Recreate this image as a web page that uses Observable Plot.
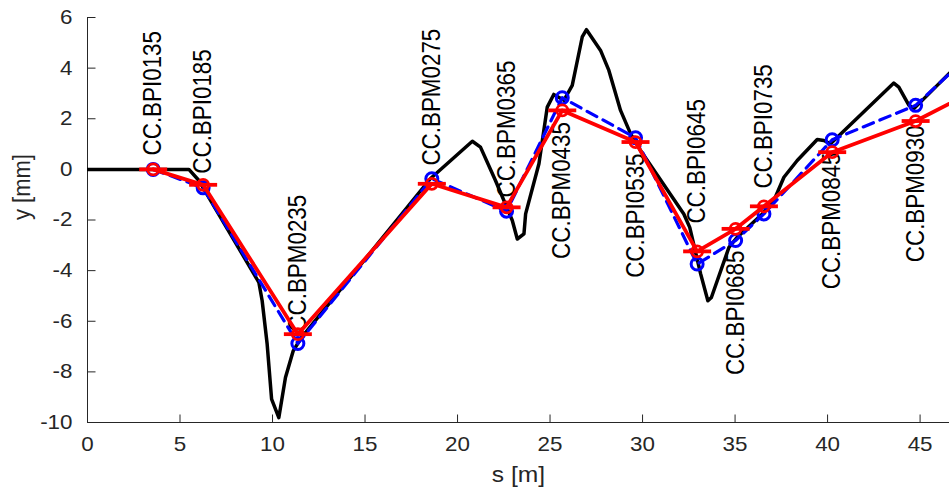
<!DOCTYPE html>
<html><head><meta charset="utf-8">
<script src="https://cdn.jsdelivr.net/npm/d3@7"></script>
<script src="https://cdn.jsdelivr.net/npm/@observablehq/plot@0.6"></script>
<style>body{margin:0;background:#fff} svg{display:block}</style>
</head><body><div id="chart"></div>
<script>
// Model trajectory (black)
const trajS = [0, 5.48, 6.02, 9.26, 9.44, 9.71, 9.95, 10.34, 10.70, 11.12, 11.51, 18.54, 20.80, 21.24, 22.05, 22.96, 23.23, 23.59, 23.68, 24.40, 24.85, 25.20, 25.75, 26.20, 26.74, 26.97, 27.73, 28.18, 28.81, 29.35, 29.89, 32.23, 32.55, 33.14, 33.53, 33.72, 34.67, 35.12, 36.47, 37.10, 37.64, 38.36, 39.44, 39.80, 40.16, 43.58, 43.85, 44.40, 44.67, 46.56, 47.50];
const trajY = [0, 0, -0.44, -4.46, -5.19, -6.90, -9.08, -9.81, -8.22, -7.17, -6.70, -0.36, 1.11, 0.88, -0.44, -2.02, -2.75, -2.55, -1.76, 0.22, 2.46, 2.96, 2.73, 3.32, 5.23, 5.52, 4.70, 3.91, 2.33, 1.41, 0.75, -1.76, -2.29, -4.13, -5.19, -5.06, -3.08, -2.68, -1.76, -1.23, -0.31, 0.35, 1.18, 1.14, 1.01, 3.41, 3.25, 2.53, 2.40, 3.78, 4.45];

// Monitors
const monitorNames = ["CC.BPI0135", "CC.BPI0185", "CC.BPM0235", "CC.BPM0275", "CC.BPM0365", "CC.BPM0435", "CC.BPI0535", "CC.BPI0645", "CC.BPI0685", "CC.BPI0735", "CC.BPM0845", "CC.BPM0930", ""];
const monitorS   = [3.55, 6.25, 11.37, 18.61, 22.65, 25.66, 29.62, 32.95, 35.03, 36.56, 40.25, 44.76, 47.50];
const blueY      = [0.00, -0.73, -6.88, -0.37, -1.65, 2.83, 1.25, -3.74, -2.81, -1.76, 1.17, 2.53, 4.39];
const redY       = [0.00, -0.61, -6.51, -0.57, -1.50, 2.33, 1.08, -3.24, -2.35, -1.46, 0.68, 1.91, 2.94];

// Label anchors (data units) and side of the point
const labelY    = [0.55, -0.17, -6.41, 0.15, -1.11, 1.87, 0.63, -2.14, -3.21, -0.76, 0.67, 1.74];
const labelSide = ["up", "up", "up", "up", "up", "down", "down", "up", "down", "up", "down", "down"];

const xTicks = [0, 5, 10, 15, 20, 25, 30, 35, 40, 45];
const yTicks = [-10, -8, -6, -4, -2, 0, 2, 4, 6];

const traj = trajS.map((s, i) => ({s, y: trajY[i]}));
const mons = monitorS.map((s, i) => ({s, blue: blueY[i], red: redY[i]}));
const labels = labelY.map((y, i) => ({s: monitorS[i], y, name: monitorNames[i], side: labelSide[i]}));

const tickUp = {draw(ctx) { ctx.moveTo(0, 0); ctx.lineTo(0, -8); }};
const tickRight = {draw(ctx) { ctx.moveTo(0, 0); ctx.lineTo(8, 0); }};
const hbar = {draw(ctx) { ctx.moveTo(-14, 0); ctx.lineTo(14, 0); }};

const axisColor = "#262626";
const font = "'Liberation Sans', Arial, Helvetica, sans-serif";

const chart = Plot.plot({
  width: 949, height: 493,
  marginLeft: 87, marginRight: 0, marginTop: 17, marginBottom: 71,
  x: {domain: [0, 46.59]},
  y: {domain: [-10, 6]},
  style: {fontFamily: font, background: "white", overflow: "hidden"},
  marks: [
    Plot.axisX({ticks: xTicks, tickSize: 0, tickPadding: 14, fontSize: 20, label: null, color: axisColor, tickFormat: d => String(d)}),
    Plot.axisY({ticks: yTicks, tickSize: 0, tickPadding: 15, fontSize: 20, label: null, color: axisColor, tickFormat: d => String(d).replace("\u2212", "-")}),
    Plot.text(["s [m]"], {text: d => d, frameAnchor: "bottom", dy: 59, fontSize: 22, fill: axisColor}),
    Plot.text(["y [mm]"], {text: d => d, frameAnchor: "left", dx: -65, rotate: -90, fontSize: 22, fill: axisColor}),
    Plot.ruleX([0], {stroke: axisColor, strokeWidth: 1}),
    Plot.ruleY([-10], {stroke: axisColor, strokeWidth: 1}),
    Plot.dot(xTicks, {x: d => d, frameAnchor: "bottom", symbol: tickUp, stroke: axisColor, strokeWidth: 1}),
    Plot.dot(yTicks, {y: d => d, frameAnchor: "left", symbol: tickRight, stroke: axisColor, strokeWidth: 1}),
    Plot.text(labels.filter(d => d.side === "up"), {x: "s", y: "y", text: "name", rotate: -90, textAnchor: "start", lineAnchor: "middle", fontSize: 22.4, fill: "black"}),
    Plot.text(labels.filter(d => d.side === "down"), {x: "s", y: "y", text: "name", rotate: -90, textAnchor: "end", lineAnchor: "middle", fontSize: 22.4, fill: "black"}),
    Plot.line(traj, {x: "s", y: "y", stroke: "black", strokeWidth: 3.5, clip: true}),
    Plot.line(mons, {x: "s", y: "blue", stroke: "#0000ff", strokeWidth: 3.2, strokeDasharray: "11,7", clip: true}),
    Plot.dot(mons, {x: "s", y: "blue", r: 6, stroke: "#0000ff", strokeWidth: 3, fill: "none", clip: true}),
    Plot.line(mons, {x: "s", y: "red", stroke: "#ff0000", strokeWidth: 3.8, clip: true}),
    Plot.dot(mons, {x: "s", y: "red", r: 5.5, stroke: "#ff0000", strokeWidth: 2.8, fill: "none", clip: true}),
    Plot.dot(mons, {x: "s", y: "red", symbol: hbar, stroke: "#ff0000", strokeWidth: 3.8, clip: true})
  ]
});
// The reference text is slightly stretched horizontally on screen
const stretch = 1.12;
chart.querySelectorAll("text").forEach(t => {
  const tr = t.getAttribute("transform");
  if (tr == null) return;
  const rotated = /rotate\(\s*-?90/.test(tr);
  t.setAttribute("transform", tr + (rotated ? ` scale(1,${stretch})` : ` scale(${stretch},1)`));
});
document.getElementById("chart").appendChild(chart);
</script>
</body></html>
